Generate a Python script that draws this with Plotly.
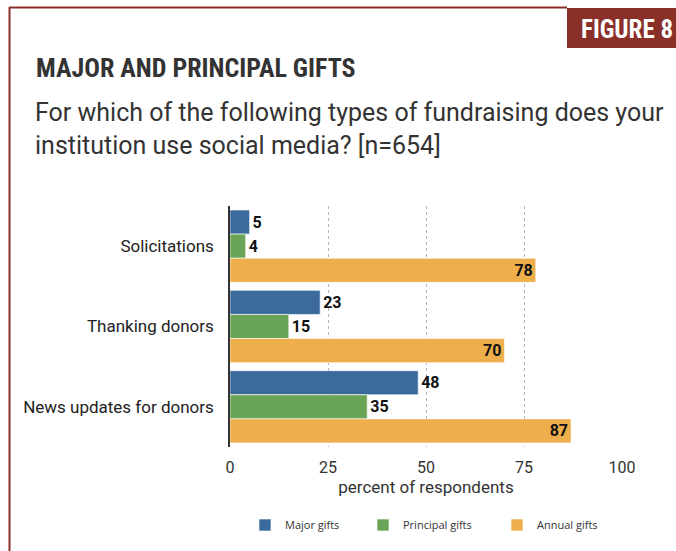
import plotly.graph_objects as go

# Survey data
categories = ["Solicitations", "Thanking donors", "News updates for donors"]
series_names = ["Major gifts", "Principal gifts", "Annual gifts"]
major_gifts = [5, 23, 48]
principal_gifts = [4, 15, 35]
annual_gifts = [78, 70, 87]
x_ticks = [0, 25, 50, 75, 100]

colors = ["#3b6a9d", "#6aa557", "#edae4b"]
accent = "#8a3029"

W, H = 676, 551
# plot area in pixels
PL, PR, PT, PB = 230, 622, 206, 447


def px(x):
    return (x - PL) / (PR - PL)


def py(y):
    return (PB - y) / (PB - PT)


legend_ids = ["legend", "legend2", "legend3"]
legend_left = [245, 363, 497]

fig = go.Figure()
values = [major_gifts, principal_gifts, annual_gifts]
for name, vals, col, lid in zip(series_names, values, colors, legend_ids):
    is_annual = name == "Annual gifts"
    fig.add_trace(go.Bar(
        y=categories,
        x=vals,
        name=name,
        legend=lid,
        orientation="h",
        marker=dict(color=col, line=dict(color="rgba(255,255,255,0.6)", width=1)),
        text=[str(v) for v in vals],
        textposition="inside" if is_annual else "outside",
        insidetextanchor="end",
        textangle=0,
        constraintext="none",
        cliponaxis=False,
        textfont=dict(family="Roboto", size=16, color="#111", weight=700),
        hoverinfo="skip",
    ))

shapes = [
    # frame lines
    dict(type="line", xref="paper", yref="paper", x0=px(9.5), x1=px(567), y0=py(7.5), y1=py(7.5),
         line=dict(color=accent, width=2)),
    dict(type="line", xref="paper", yref="paper", x0=px(9.5), x1=px(9.5), y0=py(7), y1=py(560),
         line=dict(color=accent, width=2)),
    # badge
    dict(type="rect", xref="paper", yref="paper", x0=px(567), x1=px(680), y0=py(8), y1=py(48),
         fillcolor=accent, line=dict(width=0)),
]

cond = "Roboto Condensed, Liberation Sans Narrow, Roboto"
annotations = [
    dict(text="FIGURE 8", xref="paper", yref="paper", x=px(675), y=py(29), xanchor="right",
         yanchor="middle", showarrow=False,
         font=dict(family=cond, size=25, color="white", weight=700)),
    dict(text="MAJOR AND PRINCIPAL GIFTS", xref="paper", yref="paper", x=px(34), y=py(68),
         xanchor="left", yanchor="middle", showarrow=False,
         font=dict(family=cond, size=26, color="#333", weight=700)),
    dict(text="For which of the following types of fundraising does your<br>institution use social media? [n=654]",
         xref="paper", yref="paper", x=px(33), y=py(129), xanchor="left", yanchor="middle",
         align="left", showarrow=False,
         font=dict(family="Roboto", size=25, color="#333")),
]

legend_style = dict(orientation="h", yanchor="middle", y=py(525), xanchor="left",
                    font=dict(family="Open Sans", size=11, color="#333"),
                    itemclick=False, itemdoubleclick=False, bgcolor="rgba(0,0,0,0)")

fig.update_layout(
    width=W, height=H,
    margin=dict(l=PL, r=W - PR, t=PT, b=H - PB),
    paper_bgcolor="white", plot_bgcolor="white",
    barmode="group", bargap=0.1, bargroupgap=0,
    shapes=shapes, annotations=annotations,
    showlegend=True,
    legend=dict(legend_style, x=px(legend_left[0])),
    legend2=dict(legend_style, x=px(legend_left[1])),
    legend3=dict(legend_style, x=px(legend_left[2])),
    xaxis=dict(range=[0, 100], tickvals=x_ticks, showgrid=True, gridcolor="#b5b5b5",
               griddash="dot", gridwidth=1, zeroline=False, showline=False,
               ticks="outside", ticklen=6, tickcolor="rgba(0,0,0,0)",
               tickfont=dict(family="Roboto", size=16, color="#333"),
               title=dict(text="percent of respondents", standoff=4,
                          font=dict(family="Roboto", size=17, color="#333"))),
    yaxis=dict(autorange="reversed", showgrid=False, showline=True, linecolor="#333", linewidth=1.5,
               ticks="outside", ticklen=11, tickcolor="rgba(0,0,0,0)",
               tickfont=dict(family="Roboto", size=17, color="#222")),
)

fig.write_html("out.html")
